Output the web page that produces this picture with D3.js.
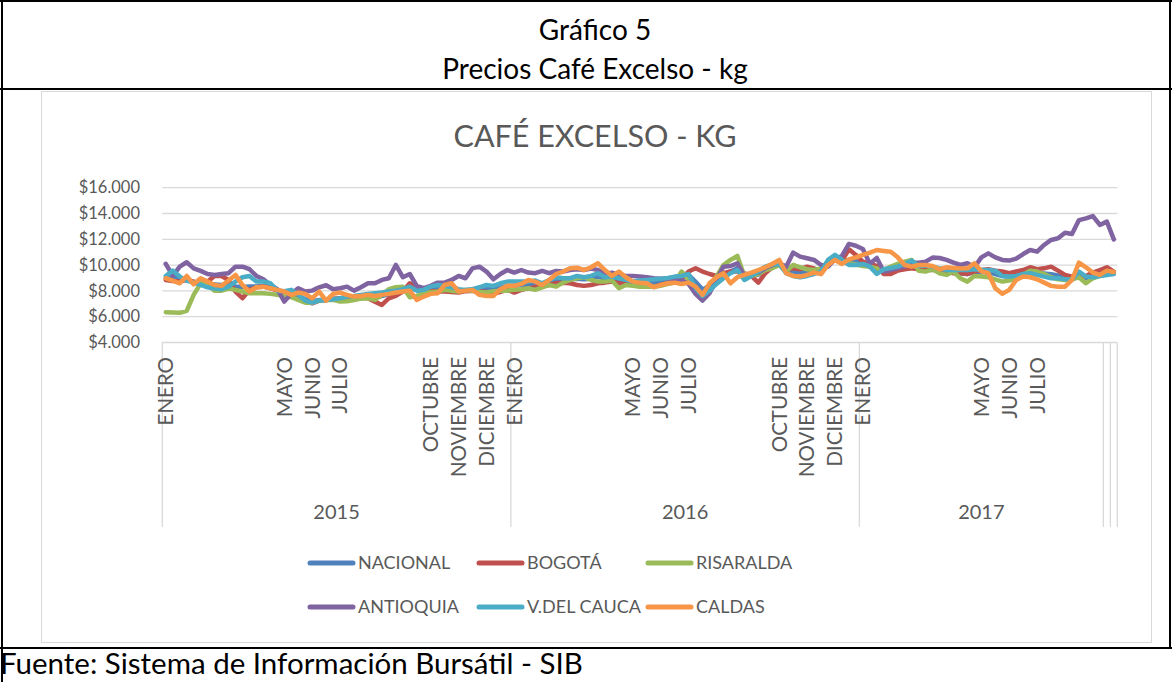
<!DOCTYPE html>
<html lang="es">
<head>
<meta charset="UTF-8">
<title>Precios Café Excelso - kg</title>
<script src="https://d3js.org/d3.v7.min.js"></script>
<style>
  body { margin: 0; background: #fff; }
  svg { display: block; font-family: Lato, "Open Sans", sans-serif; }
</style>
</head>
<body>
<svg width="1172" height="682"></svg>
<script>
// weekly prices per region, 2015 -> 2017 (137 weeks)
const nacional = [
  9000,9100,8900,8850,8700,8600,8550,8500,8450,8450,8350,8300,8350,8350,8400,8300,8050,7900,7800,7650,
  7350,7200,7300,7300,7350,7400,7450,7500,7550,7550,7500,7600,7750,7900,8000,8250,8050,8000,8100,8150,
  8150,8100,8000,8050,8100,8100,8150,8100,8250,8350,
  8400,8450,8500,8550,8500,8650,8800,8850,8900,8950,8900,8950,9100,8950,8950,8750,8700,8600,8600,8600,
  8650,8700,8750,8850,9050,9250,8700,8100,8400,8800,9300,9500,9750,9100,9200,9250,9650,9900,10050,9500,
  9500,9450,9450,9500,9450,10200,10550,10300,10400,
  10300,10100,9950,9550,9500,9650,9800,9950,10100,9800,9750,9750,9600,9500,9500,9350,9300,9450,9450,9450,
  9300,9150,9100,9200,9350,9500,9400,9350,9300,9200,9050,9000,9200,9000,9150,9300,9450,9400
];
const bogota = [
  8850,8770,8720,8850,8720,8590,8720,9160,9160,8850,7950,7430,8080,8280,8330,8210,8020,7690,7560,7430,
  7170,7040,7250,7300,7400,7430,7430,7480,7560,7430,7170,6910,7430,7610,7950,8590,8330,8130,8020,7950,
  7950,7920,7870,7980,8020,7980,7920,7820,7920,8080,
  7870,8080,8210,8280,8330,8460,8590,8640,8590,8460,8390,8460,8590,8640,8720,8590,8540,8460,8390,8330,
  8330,8460,8590,8720,8980,9500,9750,9500,9310,9160,9370,9500,9500,9370,9160,8640,9370,9830,10010,9620,
  9750,9680,9880,9750,9370,10190,10450,10350,11220,
  10790,10270,10090,9930,9310,9310,9570,9680,9750,9680,9620,9620,9620,9500,9370,9370,9310,9500,9620,9680,
  9570,9500,9370,9500,9620,9830,9680,9750,9880,9570,9240,9110,9060,9160,9420,9620,9830,9500
];
const risaralda = [
  6350,6330,6300,6450,7690,8590,8460,8020,8020,8180,8080,7950,7820,7820,7820,7770,7690,7610,7510,7300,
  7090,7090,7250,7300,7300,7170,7200,7300,7400,7430,7300,7690,8130,8280,8330,7510,7610,7820,7900,7950,
  8080,8020,7950,8080,8020,7920,7870,7980,8020,8020,
  8080,8130,8210,8080,8280,8460,8330,8640,8850,8980,9060,8850,8720,8720,8800,8210,8460,8390,8330,8330,
  8330,8390,8540,8640,9500,8850,8080,7690,8390,9110,10010,10400,10710,9160,9160,9310,9620,9750,10010,9500,
  10010,9830,9680,9620,9750,10270,10600,10270,10140,
  10050,9930,9880,9750,9620,9880,10090,10270,10400,9570,9500,9680,9370,9240,9500,8980,8720,9160,9110,9060,
  8900,8720,8800,8980,9240,9570,9500,9310,9060,8900,8850,8900,9060,8590,8980,9160,9310,9420
];
const antioquia = [
  10100,9160,9880,10220,9750,9550,9310,9240,9310,9370,9880,9880,9680,9160,8900,8460,8130,7170,7770,8210,
  7950,8020,8280,8440,8130,8210,8330,8020,8280,8590,8590,8850,8980,10010,9060,9310,8390,8210,8390,8640,
  8640,8850,9160,8980,9750,9880,9500,8900,9310,9620,
  9420,9620,9420,9370,9550,9370,9550,9500,9620,9680,9620,9730,9620,9310,9420,9240,9160,9160,9110,9060,
  8980,8950,8980,8900,8850,8540,7770,7250,7820,8850,9880,9930,10140,9160,9310,9420,9750,10010,10140,9880,
  10970,10660,10530,10400,10010,9880,10450,10710,11640,
  11500,11250,10100,10550,9500,9620,9750,9880,10190,10190,10270,10580,10550,10400,10190,10010,10140,9830,10600,10910,
  10600,10400,10350,10500,10860,11170,11040,11560,11950,12080,12510,12410,13490,13620,13800,13110,13370,11990
];
const vCauca = [
  9160,9570,9110,8800,8640,8460,8280,8180,8130,8330,8720,9060,9160,8720,8720,8590,8020,7980,8080,7690,
  7250,7090,7250,7300,7350,7430,7560,7610,7690,7770,7820,7870,7950,8020,8130,8330,8020,8080,8330,8460,
  8390,8280,8130,8080,8130,8280,8460,8390,8590,8720,
  8720,8720,8720,8800,8590,8850,9060,8980,8980,9160,9060,9160,9370,9060,9110,8980,8850,8720,8800,8850,
  8900,8950,9000,9110,9160,9310,8210,7610,8020,8540,8980,9370,9620,8850,9160,9500,9880,10060,10090,9370,
  9160,9060,9160,9310,9500,10400,10790,10400,10010,
  10010,10090,9880,9310,9680,9780,9880,10090,10350,9930,9960,9880,9750,9620,9620,9620,9620,9680,9620,9620,
  9570,9160,9110,9160,9310,9370,9240,9110,8980,8980,8900,8850,9500,9110,9060,9160,9240,9310
];
const caldas = [
  8980,8800,8590,9160,8510,8980,8720,8460,8390,8800,9240,8460,7950,8280,8330,8210,8080,7950,7690,7870,
  7770,7430,7950,7250,7770,7870,7690,7560,7610,7690,7610,7690,7770,7870,7950,8020,7300,7560,7770,7820,
  8460,8590,7950,8020,8080,7690,7610,7610,8130,8390,
  8390,8540,8850,8720,8460,8850,9310,9500,9750,9800,9620,9830,10140,9620,9160,9500,9060,8720,8640,8590,
  8280,8460,8590,8640,8540,8640,8330,7690,8590,9060,9370,8590,9060,9240,9420,9620,9830,10090,10400,9370,
  9160,9110,9240,9420,9310,10010,10400,10090,10450,
  10600,10790,10960,11170,11100,11040,10600,10010,9880,10010,10010,9930,9680,9830,9780,9730,9750,10140,9520,9370,
  8210,7770,8080,8850,9110,9060,8900,8640,8390,8330,8330,8850,10190,9830,9420,9240,9570,9470
];

const seriesNames = ["NACIONAL", "BOGOTÁ", "RISARALDA", "ANTIOQUIA", "V.DEL CAUCA", "CALDAS"];
const seriesValues = [nacional, bogota, risaralda, antioquia, vCauca, caldas];
const seriesColors = ["#4F81BD", "#C0504D", "#9BBB59", "#8064A2", "#4BACC6", "#F79646"];

// outer category level (year) and how many weeks each one covers
const years = ["2015", "2016", "2017", "", ""];
const yearWeeks = [50, 50, 35, 1, 1];
// inner category level: only these weeks carry a month label
const monthWeek = [0, 17, 21, 25, 38, 42, 46, 50, 67, 71, 75, 88, 92, 96, 100, 117, 121, 125];
const monthName = ["ENERO", "MAYO", "JUNIO", "JULIO", "OCTUBRE", "NOVIEMBRE", "DICIEMBRE",
                   "ENERO", "MAYO", "JUNIO", "JULIO", "OCTUBRE", "NOVIEMBRE", "DICIEMBRE",
                   "ENERO", "MAYO", "JUNIO", "JULIO"];
const yTicks = [4000, 6000, 8000, 10000, 12000, 14000, 16000];

const svg = d3.select("svg");
const txt = "#595959";
const grid = "#d9d9d9";

// page frame (table borders)
const frame = svg.append("g").attr("stroke", "#000").attr("stroke-width", 2);
frame.append("line").attr("x1", 0).attr("x2", 1172).attr("y1", 1).attr("y2", 1);
frame.append("line").attr("x1", 0).attr("x2", 1172).attr("y1", 89).attr("y2", 89);
frame.append("line").attr("x1", 0).attr("x2", 1172).attr("y1", 648).attr("y2", 648);
frame.append("line").attr("x1", 2).attr("x2", 2).attr("y1", 0).attr("y2", 682);
frame.append("line").attr("x1", 1170).attr("x2", 1170).attr("y1", 0).attr("y2", 648);

svg.append("text").attr("x", 595).attr("y", 40).attr("text-anchor", "middle")
  .attr("font-size", 28).attr("fill", "#000").text("Gráfico 5");
svg.append("text").attr("x", 595).attr("y", 79).attr("text-anchor", "middle")
  .attr("font-size", 28).attr("fill", "#000").text("Precios Café Excelso - kg");
svg.append("text").attr("x", 0).attr("y", 674)
  .attr("font-size", 29.5).attr("fill", "#000").text("Fuente: Sistema de Información Bursátil - SIB");

// chart area border
svg.append("rect").attr("x", 41.5).attr("y", 91.5).attr("width", 1110).attr("height", 551)
  .attr("fill", "none").attr("stroke", grid).attr("stroke-width", 1);

svg.append("text").attr("x", 595).attr("y", 147).attr("text-anchor", "middle")
  .attr("font-size", 30.5).attr("fill", txt).text("CAFÉ EXCELSO - KG");

const nWeeks = d3.sum(yearWeeks);
const x = d3.scaleBand().domain(d3.range(nWeeks)).range([162.3, 1117.3]);
const y = d3.scaleLinear().domain([4000, 16000]).range([342.5, 187.7]);
const xc = i => x(i) + x.bandwidth() / 2;
const xEdge = i => i >= nWeeks ? x.range()[1] : x(i);

// gridlines + y labels
svg.append("g").selectAll("line").data(yTicks).join("line")
  .attr("x1", 162.3).attr("x2", 1117.3)
  .attr("y1", d => y(d)).attr("y2", d => y(d))
  .attr("stroke", grid).attr("stroke-width", 1.3);

const fmt = v => "$" + d3.format(",")(v).replace(/,/g, ".");
svg.append("g").selectAll("text").data(yTicks).join("text")
  .attr("x", 140).attr("y", d => y(d)).attr("dy", "0.35em")
  .attr("text-anchor", "end").attr("font-size", 16.5).attr("fill", txt)
  .text(fmt);

// year separators on the multi-level category axis
const bounds = [0, ...d3.cumsum(yearWeeks)];
svg.append("g").selectAll("line").data(bounds).join("line")
  .attr("x1", d => xEdge(d)).attr("x2", d => xEdge(d))
  .attr("y1", 342.5).attr("y2", 527)
  .attr("stroke", grid).attr("stroke-width", 1.3);

svg.append("g").selectAll("text").data(years).join("text")
  .attr("x", (d, i) => (xEdge(bounds[i]) + xEdge(bounds[i + 1])) / 2)
  .attr("y", 519).attr("text-anchor", "middle")
  .attr("font-size", 20).attr("fill", txt).text(d => d);

svg.append("g").selectAll("text").data(monthWeek).join("text")
  .attr("transform", d => `translate(${xc(d)},357) rotate(-90)`)
  .attr("text-anchor", "end").attr("dy", "0.36em")
  .attr("font-size", 20.5).attr("fill", txt)
  .text((d, i) => monthName[i]);

// series
const line = d3.line().x((d, i) => xc(i)).y(d => y(d));
svg.append("g").selectAll("path").data(seriesValues).join("path")
  .attr("d", line)
  .attr("fill", "none")
  .attr("stroke", (d, i) => seriesColors[i])
  .attr("stroke-width", 4.5)
  .attr("stroke-linejoin", "round")
  .attr("stroke-linecap", "round");

// legend
const legX = [308, 477, 646];
const legY = [563, 607];
const leg = svg.append("g").selectAll("g").data(seriesNames).join("g")
  .attr("transform", (d, i) => `translate(${legX[i % 3]},${legY[Math.floor(i / 3)]})`);
leg.append("line").attr("x1", 2).attr("x2", 45)
  .attr("stroke", (d, i) => seriesColors[i]).attr("stroke-width", 5).attr("stroke-linecap", "round");
leg.append("text").attr("x", 50).attr("dy", "0.36em")
  .attr("font-size", 18).attr("fill", txt).text(d => d);
</script>
</body>
</html>
